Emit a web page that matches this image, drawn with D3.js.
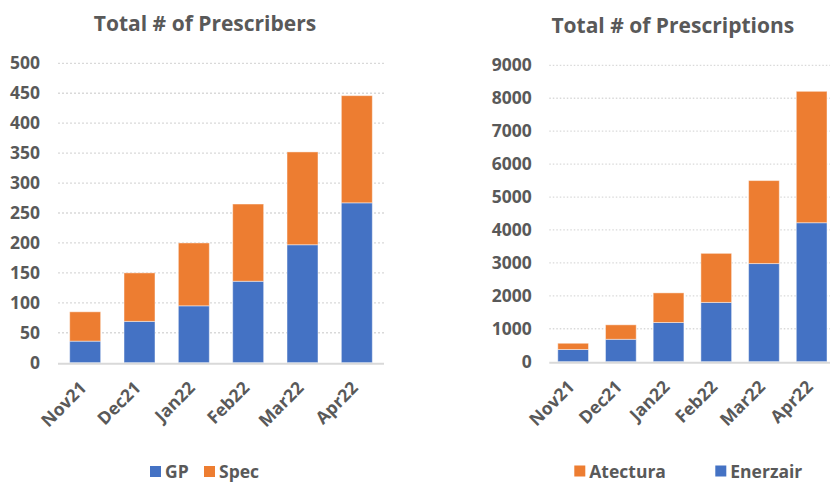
<!DOCTYPE html>
<html>
<head>
<meta charset="utf-8">
<script src="https://cdn.jsdelivr.net/npm/d3@7.9.0/dist/d3.min.js"></script>
<style>
  body { margin: 0; background: #fff; }
  svg { display: block; font-family: 'Open Sans', sans-serif; font-weight: 700; }
</style>
</head>
<body>
<svg id="chart" width="830" height="483"></svg>
<script>
// months shared by both charts
const months = ['Nov21', 'Dec21', 'Jan22', 'Feb22', 'Mar22', 'Apr22'];

// left chart: prescribers
const gpCounts = [36, 69, 95, 136, 197, 267];
const specCounts = [49, 81, 105, 129, 155, 179];
const prescriberTicks = [0, 50, 100, 150, 200, 250, 300, 350, 400, 450, 500];

// right chart: prescriptions
const enerzairCounts = [370, 680, 1190, 1800, 2980, 4220];
const atecturaCounts = [190, 440, 900, 1490, 2520, 3990];
const prescriptionTicks = [0, 1000, 2000, 3000, 4000, 5000, 6000, 7000, 8000, 9000];

const BLUE = '#4472C4';
const ORANGE = '#ED7D31';
const TEXT = '#595959';
const GRID = '#d9d9d9';

const svg = d3.select('#chart');

function drawChart(opts) {
  const g = svg.append('g');

  const x = d3.scaleBand()
    .domain(months)
    .range([opts.left, opts.right])
    .paddingInner(opts.pad)
    .paddingOuter(opts.pad / 2);

  const y = d3.scaleLinear()
    .domain([0, opts.ticks[opts.ticks.length - 1]])
    .range([opts.bottom, opts.top]);

  // dotted gridlines
  g.selectAll('line.grid')
    .data(opts.ticks.filter(t => t > 0))
    .enter()
    .append('line')
    .attr('x1', opts.left)
    .attr('x2', opts.right)
    .attr('y1', d => y(d))
    .attr('y2', d => y(d))
    .attr('stroke', GRID)
    .attr('stroke-width', 1.3)
    .attr('stroke-dasharray', opts.dash);

  // stack the two series
  const rows = months.map((m, i) => ({ month: m, a: opts.bottomSeries[i], b: opts.topSeries[i] }));
  const stacked = d3.stack().keys(['a', 'b'])(rows);
  const colors = [opts.bottomColor, opts.topColor];

  g.selectAll('g.layer')
    .data(stacked)
    .enter()
    .append('g')
    .attr('fill', (d, i) => colors[i])
    .selectAll('rect')
    .data(d => d)
    .enter()
    .append('rect')
    .attr('x', d => x(d.data.month))
    .attr('width', x.bandwidth())
    .attr('y', d => y(d[1]))
    .attr('height', d => y(d[0]) - y(d[1]))
    .attr('stroke', 'rgba(255,255,255,0.45)')
    .attr('stroke-width', 1);

  // baseline
  g.append('line')
    .attr('x1', opts.left)
    .attr('x2', opts.right)
    .attr('y1', y(0) + 1)
    .attr('y2', y(0) + 1)
    .attr('stroke', GRID)
    .attr('stroke-width', 2);

  // y axis labels
  const yAxis = g.append('g')
    .attr('transform', `translate(${opts.left},0)`)
    .call(d3.axisLeft(y)
      .tickValues(opts.ticks)
      .tickFormat(d3.format('d'))
      .tickSize(0)
      .tickPadding(opts.left - opts.labelRight));
  yAxis.select('.domain').remove();
  yAxis.selectAll('text')
    .attr('fill', TEXT)
    .style('font-family', "'Open Sans', sans-serif")
    .style('font-weight', 700)
    .style('font-size', '17.5px');

  // x labels, rotated
  g.selectAll('text.xlab')
    .data(months)
    .enter()
    .append('text')
    .attr('transform', d => `translate(${x(d) + x.bandwidth() / 2 - 2},${y(0) + 22}) rotate(-45)`)
    .attr('text-anchor', 'end')
    .attr('dy', '0.35em')
    .attr('fill', TEXT)
    .style('font-size', '17.5px')
    .text(d => d);

  // title
  g.append('text')
    .attr('x', opts.titleX)
    .attr('y', opts.titleY)
    .attr('text-anchor', 'middle')
    .attr('fill', TEXT)
    .style('font-size', '21px')
    .text(opts.title);

  // legend
  const leg = g.selectAll('g.leg')
    .data(opts.legend)
    .enter()
    .append('g')
    .attr('transform', d => `translate(${d.x},${opts.legendY})`);
  leg.append('rect')
    .attr('width', 11)
    .attr('height', 11)
    .attr('fill', d => d.color);
  leg.append('text')
    .attr('x', 15)
    .attr('y', 12)
    .attr('fill', TEXT)
    .style('font-size', '17.5px')
    .text(d => d.name);
}

drawChart({
  left: 58, right: 384, top: 63.3, bottom: 362.7, pad: 0.43,
  ticks: prescriberTicks, labelRight: 40, dash: '2,2',
  bottomSeries: gpCounts, topSeries: specCounts,
  bottomColor: BLUE, topColor: ORANGE,
  title: 'Total # of Prescribers', titleX: 205, titleY: 31,
  legendY: 466,
  legend: [{ name: 'GP', color: BLUE, x: 150 }, { name: 'Spec', color: ORANGE, x: 204 }]
});

drawChart({
  left: 549.3, right: 835.5, top: 65.3, bottom: 361.7, pad: 0.356,
  ticks: prescriptionTicks, labelRight: 531.7, dash: '1.5,2',
  bottomSeries: enerzairCounts, topSeries: atecturaCounts,
  bottomColor: BLUE, topColor: ORANGE,
  title: 'Total # of Prescriptions', titleX: 672.8, titleY: 33,
  legendY: 465.5,
  legend: [{ name: 'Atectura', color: ORANGE, x: 574.3 }, { name: 'Enerzair', color: BLUE, x: 715.3 }]
});
</script>
</body>
</html>
